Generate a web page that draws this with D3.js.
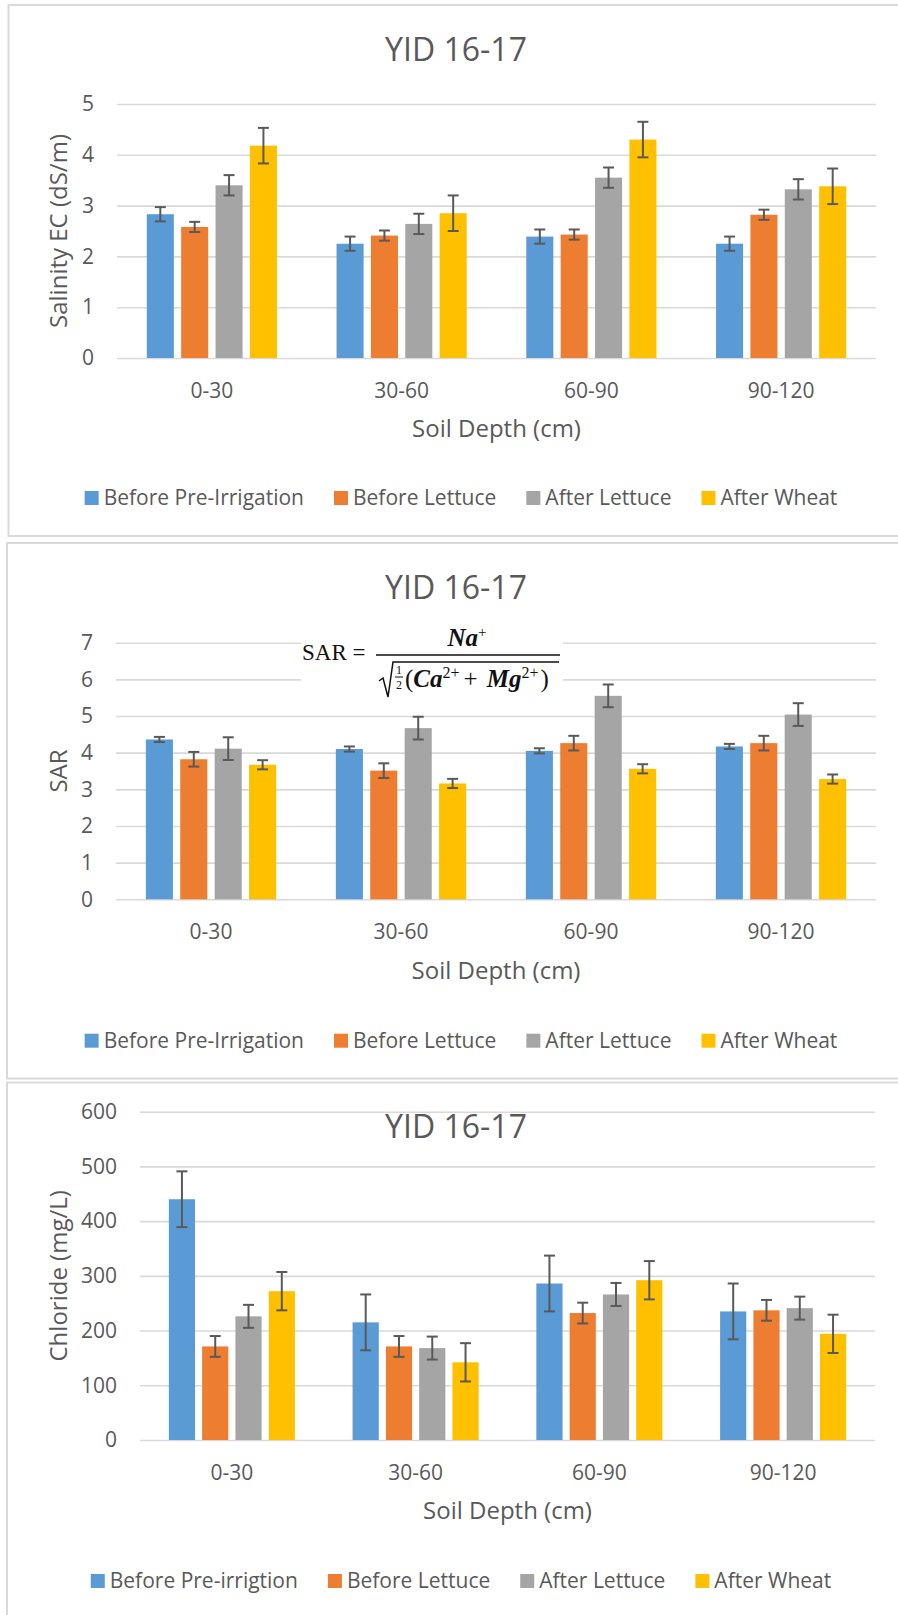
<!DOCTYPE html>
<html>
<head>
<meta charset="utf-8">
<script src="https://cdnjs.cloudflare.com/ajax/libs/d3/7.8.5/d3.min.js"></script>
<style>
  body { margin: 0; background: #fff; }
  text { font-family: "Open Sans", sans-serif; }
</style>
</head>
<body>
<div class="chart"></div>
<script>
var svgWidth = 898;
var svgHeight = 1615;

// shared categories / series
var categories = ["0-30", "30-60", "60-90", "90-120"];
var seriesNames = ["Before Pre-Irrigation", "Before Lettuce", "After Lettuce", "After Wheat"];
var seriesNamesCl = ["Before Pre-irrigtion", "Before Lettuce", "After Lettuce", "After Wheat"];
var colors = ["#5b9bd5", "#ed7d31", "#a5a5a5", "#ffc000"];

// Salinity EC (dS/m), one row per series
var ecValues = [
    [2.83, 2.25, 2.39, 2.25],
    [2.58, 2.41, 2.43, 2.82],
    [3.40, 2.64, 3.55, 3.32],
    [4.18, 2.85, 4.30, 3.38]
];
var ecErrors = [
    [0.14, 0.14, 0.14, 0.14],
    [0.10, 0.10, 0.10, 0.10],
    [0.20, 0.20, 0.20, 0.20],
    [0.35, 0.35, 0.35, 0.35]
];
var ecTicks = [0, 1, 2, 3, 4, 5];

// SAR
var sarValues = [
    [4.36, 4.10, 4.05, 4.17],
    [3.82, 3.51, 4.26, 4.26],
    [4.11, 4.67, 5.55, 5.04],
    [3.67, 3.16, 3.56, 3.28]
];
var sarErrors = [
    [0.07, 0.07, 0.07, 0.07],
    [0.20, 0.20, 0.20, 0.20],
    [0.31, 0.31, 0.31, 0.31],
    [0.125, 0.125, 0.125, 0.125]
];
var sarTicks = [0, 1, 2, 3, 4, 5, 6, 7];

// Chloride (mg/L)
var clValues = [
    [440, 215, 286, 235],
    [171, 171, 232, 237],
    [226, 168, 266, 241],
    [272, 142, 292, 194]
];
var clErrors = [
    [51, 51, 51, 51],
    [19, 19, 19, 19],
    [21, 21, 21, 21],
    [35, 35, 35, 35]
];
var clTicks = [0, 100, 200, 300, 400, 500, 600];

var textColor = "#595959";
var gridColor = "#d9d9d9";

var svg = d3.select(".chart")
    .append("svg")
    .attr("width", svgWidth)
    .attr("height", svgHeight);

var panels = [
    {boxX: 8.5, boxY: 5, boxH: 531, left: 117, right: 876, y0: 358, yTop: 104,
     max: 5, ticks: ecTicks, values: ecValues, errors: ecErrors, names: seriesNames,
     yTitle: "Salinity EC (dS/m)", titleY: 61, legendY: 498},
    {boxX: 7, boxY: 543, boxH: 535.5, left: 116, right: 876, y0: 899.3, yTop: 642.7,
     max: 7, ticks: sarTicks, values: sarValues, errors: sarErrors, names: seriesNames,
     yTitle: "SAR", titleY: 599, legendY: 1040.7, formula: true},
    {boxX: 7, boxY: 1082.5, boxH: 600, left: 140, right: 875, y0: 1440, yTop: 1111.7,
     max: 600, ticks: clTicks, values: clValues, errors: clErrors, names: seriesNamesCl,
     yTitle: "Chloride (mg/L)", titleY: 1137.7, legendY: 1581}
];

panels.forEach(drawPanel);

function drawPanel(p) {
    var g = svg.append("g");

    // chart area border
    g.append("rect")
        .attr("x", p.boxX).attr("y", p.boxY)
        .attr("width", 960).attr("height", p.boxH)
        .attr("fill", "none")
        .attr("stroke", gridColor)
        .attr("stroke-width", 2);

    var y = d3.scaleLinear().domain([0, p.max]).range([p.y0, p.yTop]);
    var x0 = d3.scaleBand().domain(categories).range([p.left, p.right]);
    var groupW = x0.bandwidth() * 0.686;
    var x1 = d3.scaleBand()
        .domain(d3.range(colors.length))
        .range([(x0.bandwidth() - groupW) / 2, (x0.bandwidth() + groupW) / 2])
        .paddingInner(0.213);

    // y axis with gridlines
    var yAxis = g.append("g")
        .attr("transform", `translate(${p.left}, 0)`)
        .call(d3.axisLeft(y).tickValues(p.ticks).tickFormat(d3.format("d"))
            .tickSize(-(p.right - p.left)).tickPadding(23));
    yAxis.select(".domain").remove();
    yAxis.selectAll("line").attr("stroke", gridColor).attr("stroke-width", 1.6);
    yAxis.selectAll("text")
        .attr("fill", textColor)
        .style("font-size", "21px")
        .style("font-family", "'Open Sans', sans-serif");

    // x axis labels
    var xAxis = g.append("g")
        .attr("transform", `translate(0, ${p.y0})`)
        .call(d3.axisBottom(x0).tickSize(0).tickPadding(25));
    xAxis.select(".domain").remove();
    xAxis.selectAll("text")
        .attr("fill", textColor)
        .style("font-size", "21px")
        .style("font-family", "'Open Sans', sans-serif");

    if (p.formula) drawFormula(g);

    // bars
    var cells = [];
    p.values.forEach(function(row, i) {
        row.forEach(function(v, j) {
            cells.push({s: i, cat: categories[j], v: v, e: p.errors[i][j]});
        });
    });

    g.selectAll(".bar").data(cells).join("rect")
        .attr("class", "bar")
        .attr("x", d => x0(d.cat) + x1(d.s))
        .attr("y", d => y(d.v))
        .attr("width", x1.bandwidth())
        .attr("height", d => y(0) - y(d.v))
        .attr("fill", d => colors[d.s]);

    // error bars
    var cap = 5.5;
    var eb = g.selectAll(".err").data(cells).join("g").attr("class", "err")
        .attr("stroke", "#595959").attr("stroke-width", 2);
    eb.append("line")
        .attr("x1", d => x0(d.cat) + x1(d.s) + x1.bandwidth() / 2)
        .attr("x2", d => x0(d.cat) + x1(d.s) + x1.bandwidth() / 2)
        .attr("y1", d => y(d.v + d.e))
        .attr("y2", d => y(d.v - d.e));
    [1, -1].forEach(function(sign) {
        eb.append("line")
            .attr("x1", d => x0(d.cat) + x1(d.s) + x1.bandwidth() / 2 - cap)
            .attr("x2", d => x0(d.cat) + x1(d.s) + x1.bandwidth() / 2 + cap)
            .attr("y1", d => y(d.v + sign * d.e))
            .attr("y2", d => y(d.v + sign * d.e));
    });

    // chart title
    g.append("text")
        .attr("x", 456).attr("y", p.titleY)
        .attr("text-anchor", "middle")
        .attr("fill", textColor)
        .style("font-size", "32px")
        .text("YID 16-17");

    // axis titles
    g.append("text")
        .attr("transform", `translate(59, ${(p.y0 + p.yTop) / 2}) rotate(-90)`)
        .attr("text-anchor", "middle")
        .attr("dy", "0.35em")
        .attr("fill", textColor)
        .style("font-size", "24px")
        .text(p.yTitle);

    g.append("text")
        .attr("x", (p.left + p.right) / 2).attr("y", p.y0 + 71)
        .attr("text-anchor", "middle")
        .attr("dy", "0.35em")
        .attr("fill", textColor)
        .style("font-size", "24px")
        .text("Soil Depth (cm)");

    // legend, centred in the chart area
    var leg = g.append("g");
    var items = leg.selectAll("g").data(p.names).join("g");
    items.append("rect")
        .attr("width", 14).attr("height", 14)
        .attr("y", p.legendY - 7)
        .attr("fill", (d, i) => colors[i]);
    items.append("text")
        .attr("y", p.legendY)
        .attr("dy", "0.35em")
        .attr("fill", textColor)
        .style("font-size", "21px")
        .text(d => d);
    var xPos = 0;
    var widths = [];
    items.each(function() {
        widths.push(d3.select(this).select("text").node().getComputedTextLength());
    });
    items.each(function(d, i) {
        d3.select(this).select("rect").attr("x", xPos);
        d3.select(this).select("text").attr("x", xPos + 19);
        xPos += 19 + widths[i] + 30;
    });
    var total = xPos - 30;
    leg.attr("transform", `translate(${461 - total / 2}, 0)`);
}

// SAR definition, drawn over the top gridlines
function drawFormula(g) {
    var f = g.append("g").attr("fill", "#111");
    f.append("rect")
        .attr("x", 301).attr("y", 628).attr("width", 262).attr("height", 74)
        .attr("fill", "#fff");
    var serif = "'Liberation Serif', 'DejaVu Serif', serif";

    f.append("text")
        .attr("x", 302).attr("y", 660)
        .style("font-family", serif).style("font-size", "23px")
        .text("SAR =");

    var num = f.append("text")
        .attr("x", 467).attr("y", 646)
        .attr("text-anchor", "middle")
        .style("font-family", serif).style("font-size", "25px");
    num.append("tspan").style("font-style", "italic").style("font-weight", "bold").text("Na");
    num.append("tspan").attr("dy", -9).style("font-size", "15px").text("+");

    f.append("line")
        .attr("x1", 376).attr("x2", 560).attr("y1", 655).attr("y2", 655)
        .attr("stroke", "#111").attr("stroke-width", 1.6);

    // radical sign
    f.append("path")
        .attr("d", "M379,681 L383,678 L388,697 L393,662 L559,662")
        .attr("fill", "none").attr("stroke", "#111").attr("stroke-width", 1.5);

    f.append("text").attr("x", 399).attr("y", 674).attr("text-anchor", "middle")
        .style("font-family", serif).style("font-size", "12px").text("1");
    f.append("line").attr("x1", 395).attr("x2", 403).attr("y1", 677).attr("y2", 677)
        .attr("stroke", "#111").attr("stroke-width", 1);
    f.append("text").attr("x", 399).attr("y", 689).attr("text-anchor", "middle")
        .style("font-family", serif).style("font-size", "12px").text("2");

    var den = f.append("text")
        .attr("x", 405).attr("y", 687)
        .style("font-family", serif).style("font-size", "25px");
    den.append("tspan").text("(");
    den.append("tspan").style("font-style", "italic").style("font-weight", "bold").text("Ca");
    den.append("tspan").attr("dy", -9).style("font-size", "16px").text("2+");
    den.append("tspan").attr("dy", 9).attr("dx", 4).text("+");
    den.append("tspan").attr("dx", 9).style("font-style", "italic").style("font-weight", "bold").text("Mg");
    den.append("tspan").attr("dy", -9).style("font-size", "16px").text("2+");
    den.append("tspan").attr("dy", 9).attr("dx", 2).text(")");
}
</script>
</body>
</html>
